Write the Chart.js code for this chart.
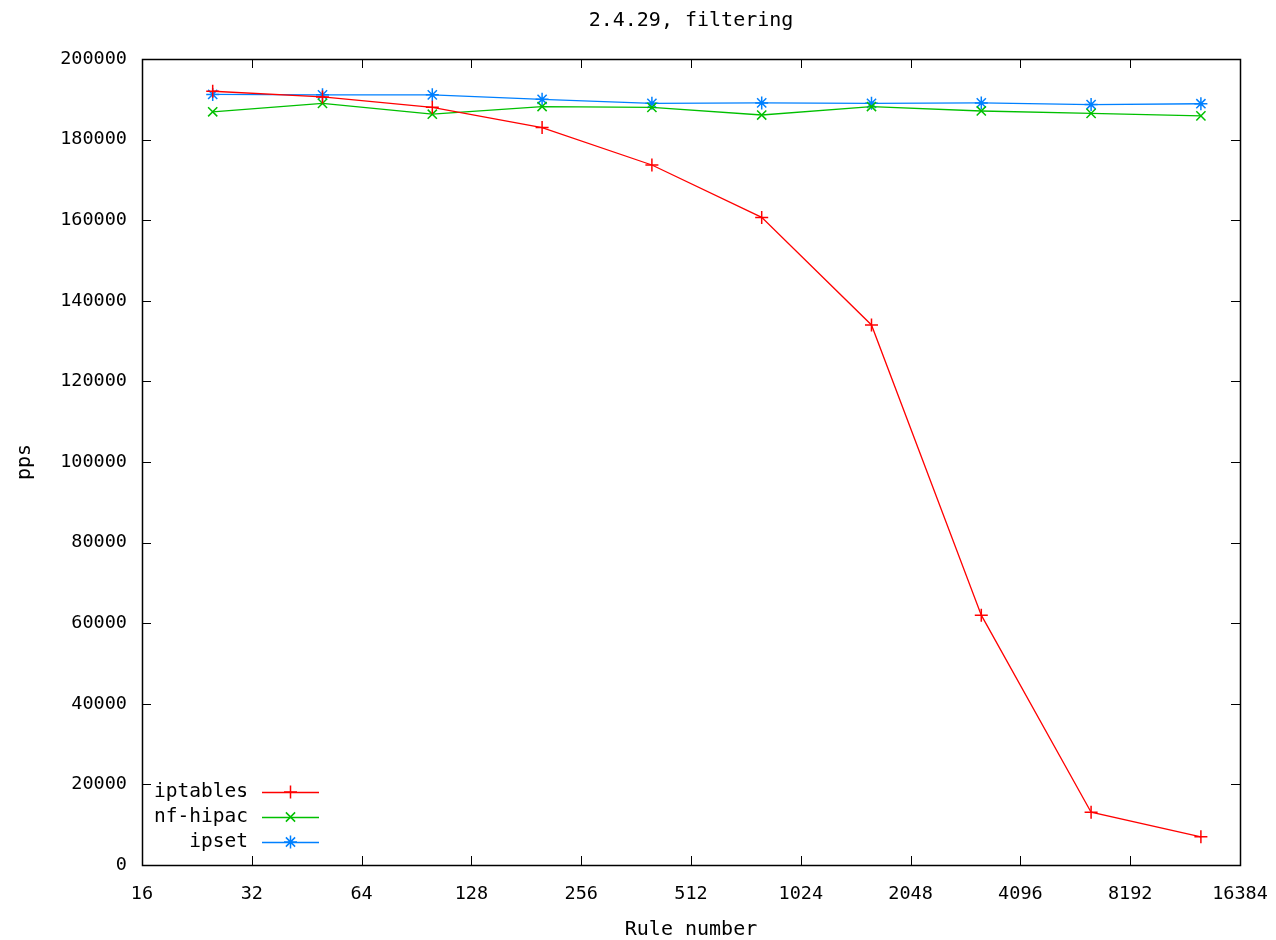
<!DOCTYPE html>
<html>
<head>
<meta charset="utf-8">
<title>2.4.29, filtering</title>
<script src="https://cdn.jsdelivr.net/npm/chart.js@4.4.1/dist/chart.umd.min.js"></script>
<style>
  html, body { margin: 0; padding: 0; background: #fff; }
  #wrap { width: 1276px; height: 940px; }
</style>
</head>
<body>
<div id="wrap"><canvas id="chart"></canvas></div>
<script>
// === Data ===
const ruleNumbers = [25, 50, 100, 200, 400, 800, 1600, 3200, 6400, 12800];
const iptablesPps = [192000, 190600, 188000, 183000, 173700, 160700, 134000, 62000, 13100, 7000];
const nfHipacPps  = [186900, 189000, 186300, 188200, 188000, 186100, 188200, 187100, 186500, 185900];
const ipsetPps    = [191200, 191100, 191100, 190000, 189000, 189100, 189000, 189100, 188700, 188900];

const xTicks = [16, 32, 64, 128, 256, 512, 1024, 2048, 4096, 8192, 16384];
const yTicks = [0, 20000, 40000, 60000, 80000, 100000, 120000, 140000, 160000, 180000, 200000];

const FONT = "'DejaVu Sans Mono', monospace";
const toPoints = (ys) => ruleNumbers.map((x, i) => ({ x, y: ys[i] }));

// === Frame + mirrored inward ticks (gnuplot style) ===
const framePlugin = {
  id: "frame",
  afterDatasetsDraw(chart) {
    const { ctx, chartArea: a, scales } = chart;
    const L = 9;
    ctx.save();
    ctx.strokeStyle = "#000";
    ctx.lineWidth = 1;
    ctx.beginPath();
    xTicks.forEach((v) => {
      const px = Math.round(scales.x.getPixelForValue(v)) + 0.5;
      ctx.moveTo(px, a.bottom); ctx.lineTo(px, a.bottom - L);
      ctx.moveTo(px, a.top); ctx.lineTo(px, a.top + L);
    });
    yTicks.forEach((v) => {
      const py = Math.round(scales.y.getPixelForValue(v)) + 0.5;
      ctx.moveTo(a.left, py); ctx.lineTo(a.left + L, py);
      ctx.moveTo(a.right, py); ctx.lineTo(a.right - L, py);
    });
    ctx.stroke();
    ctx.lineWidth = 1.5;
    ctx.strokeRect(Math.round(a.left) + 0.5, Math.round(a.top) + 0.5,
      Math.round(a.right - a.left), Math.round(a.bottom - a.top));
    ctx.restore();
  },
};

// === Legend inside the plot, bottom left ===
const keyPlugin = {
  id: "key",
  afterDraw(chart) {
    const { ctx } = chart;
    const textRight = 248, lineStart = 262, lineEnd = 319;
    const rows = [792, 817, 842];
    ctx.save();
    ctx.font = "19.5px " + FONT;
    ctx.textAlign = "right";
    ctx.textBaseline = "middle";
    chart.data.datasets.forEach((ds, i) => {
      const y = rows[i];
      ctx.fillStyle = "#000";
      ctx.fillText(ds.label, textRight, y);
      ctx.strokeStyle = ds.borderColor;
      ctx.lineWidth = 1.5;
      ctx.beginPath();
      ctx.moveTo(lineStart, y + 0.5);
      ctx.lineTo(lineEnd, y + 0.5);
      ctx.stroke();
      if (Chart.helpers && Chart.helpers.drawPoint) {
        Chart.helpers.drawPoint(ctx, {
          pointStyle: ds.pointStyle, radius: ds.pointRadius, rotation: 0, borderWidth: 1.5,
        }, (lineStart + lineEnd) / 2, y);
      }
    });
    ctx.restore();
  },
};

const makeSet = (label, data, color, style) => ({
  label,
  data: toPoints(data),
  borderColor: color,
  backgroundColor: color,
  borderWidth: 1.3,
  pointStyle: style,
  pointRadius: 6.5,
  pointBorderWidth: 1.5,
  pointHoverRadius: 6.5,
  tension: 0,
  fill: false,
});

const tickFont = { family: FONT, size: 18.5, lineHeight: 1.2 };
const titleFont = { family: FONT, size: 20, weight: "normal", lineHeight: 1.0 };

new Chart(document.getElementById("chart"), {
  type: "line",
  data: {
    datasets: [
      makeSet("iptables", iptablesPps, "#ff0000", "cross"),
      makeSet("nf-hipac", nfHipacPps, "#00c000", "crossRot"),
      makeSet("ipset", ipsetPps, "#0080ff", "star"),
    ],
  },
  options: {
    responsive: true,
    maintainAspectRatio: false,
    animation: false,
    layout: { padding: { left: 0, right: 36, top: 0, bottom: 0 } },
    plugins: {
      legend: { display: false },
      tooltip: { enabled: false },
      title: {
        display: true,
        fullSize: false,
        text: "2.4.29, filtering",
        color: "#000",
        font: titleFont,
        padding: { top: 11, bottom: 28 },
      },
    },
    scales: {
      x: {
        type: "logarithmic",
        min: 16,
        max: 16384,
        afterBuildTicks: (axis) => { axis.ticks = xTicks.map((v) => ({ value: v })); },
        afterFit: (axis) => {
          axis.height = 75;
          axis.paddingLeft = 0;
          axis.paddingRight = 0;
        },
        grid: { display: false },
        border: { display: false },
        ticks: {
          color: "#000",
          padding: 10,
          maxRotation: 0,
          autoSkip: false,
          font: tickFont,
          callback: (v) => String(v),
        },
        title: {
          display: true,
          text: "Rule number",
          color: "#000",
          font: titleFont,
          padding: { top: 0, bottom: 0 },
        },
      },
      y: {
        type: "linear",
        min: 0,
        max: 200000,
        afterBuildTicks: (axis) => { axis.ticks = yTicks.map((v) => ({ value: v })); },
        afterFit: (axis) => {
          axis.width = 142;
          axis.paddingTop = 0;
          axis.paddingBottom = 0;
        },
        grid: { display: false },
        border: { display: false },
        ticks: {
          color: "#000",
          padding: 7,
          font: tickFont,
          callback: (v) => String(v),
        },
        title: {
          display: true,
          text: "pps",
          color: "#000",
          font: titleFont,
          padding: { top: 15, bottom: 0 },
        },
      },
    },
  },
  plugins: [framePlugin, keyPlugin],
});
</script>
</body>
</html>
